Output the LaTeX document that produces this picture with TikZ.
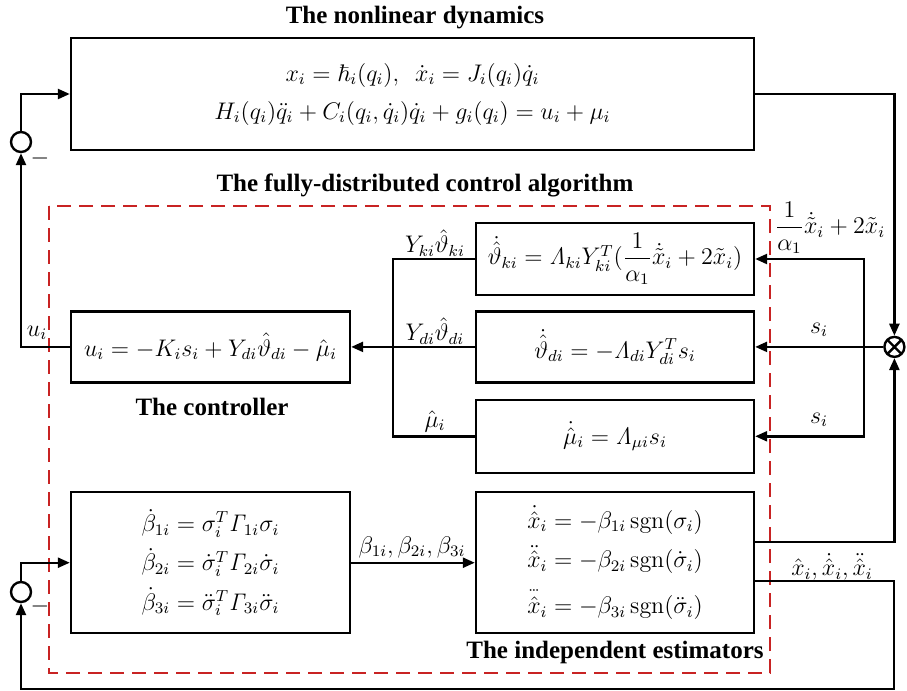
\documentclass[tikz,border=0pt]{standalone}
\usepackage{amsmath,amssymb,mathtools}
\usepackage[no-math]{fontspec}
\setmainfont{Liberation Serif}
\usetikzlibrary{positioning, arrows.meta, calc}
\definecolor{dashred}{RGB}{200,35,35}
\newcommand{\tridot}[1]{\overset{\mathclap{\raisebox{-1.5pt}{$\scriptstyle\cdot\mkern-1.5mu\cdot\mkern-1.5mu\cdot$}}}{#1}}

\begin{document}
\begin{tikzpicture}[
  x=0.5pt, y=-0.5pt,
  block/.style={draw, line width=1.2pt, align=center, inner sep=2pt,
                font=\fontsize{12}{14}\selectfont},
  sumc/.style={draw, circle, line width=1.2pt, minimum size=10pt, inner sep=0pt},
  mixer/.style={sumc, path picture={
      \draw[line width=1.2pt] (path picture bounding box.north west) -- (path picture bounding box.south east)
                              (path picture bounding box.north east) -- (path picture bounding box.south west);}},
  arr/.style={-{Triangle[length=6pt, width=5pt]}, line width=1.2pt},
  wire/.style={line width=1.2pt},
  heading/.style={font=\fontsize{12.5}{14}\selectfont\bfseries},
  lbl/.style={font=\fontsize{12}{14}\selectfont, inner sep=1pt},
  gbox/.style={draw=dashred, dash pattern=on 7pt off 4pt, line width=0.8pt},
]
\useasboundingbox (0,0) rectangle (907,691);

% --- Group box ---
\draw[gbox] (49,206) rectangle (770,673);

% --- Nodes ---

% Plant
\node[block, minimum width=341.5pt, minimum height=56pt] (dyn) at (412.5,94)
  {$x_i = \hbar_i(q_i),\ \ \dot{x}_i = J_i(q_i)\dot{q}_i$\\[5pt]
   $H_i(q_i)\ddot{q}_i + C_i(q_i,\dot{q}_i)\dot{q}_i + g_i(q_i) = u_i + \mu_i$};

% Adaptive laws
\node[block, minimum width=139pt, minimum height=36pt] (kap) at (615,259)
  {$\dot{\hat{\vartheta}}_{ki} = \mathit{\Lambda}_{ki}Y_{ki}^T(\dfrac{1}{\alpha_1}\dot{\tilde{x}}_i + 2\tilde{x}_i)$};
\node[block, minimum width=139pt, minimum height=35.5pt, below=7pt of kap] (dlaw)
  {$\dot{\hat{\vartheta}}_{di} = -\mathit{\Lambda}_{di}Y_{di}^T s_i$};
\node[block, minimum width=139pt, minimum height=36.5pt, below=7.5pt of dlaw] (mulaw)
  {$\dot{\hat{\mu}}_i = \mathit{\Lambda}_{\mu i}s_i$};

% Estimators
\node[block, minimum width=139pt, minimum height=70.5pt, below=8.5pt of mulaw] (est)
  {$\dot{\hat{x}}_i = -\beta_{1i}\operatorname{sgn}(\sigma_i)$\\[4.5pt]
   $\ddot{\hat{x}}_i = -\beta_{2i}\operatorname{sgn}(\dot{\sigma}_i)$\\[4.5pt]
   $\tridot{\hat{x}}_i = -\beta_{3i}\operatorname{sgn}(\ddot{\sigma}_i)$};
\node[block, minimum width=139.5pt, minimum height=70.5pt, left=61.8pt of est] (beta)
  {$\dot{\beta}_{1i} = \sigma_i^T\mathit{\Gamma}_{1i}\sigma_i$\\[4.5pt]
   $\dot{\beta}_{2i} = \dot{\sigma}_i^T\mathit{\Gamma}_{2i}\dot{\sigma}_i$\\[4.5pt]
   $\dot{\beta}_{3i} = \ddot{\sigma}_i^T\mathit{\Gamma}_{3i}\ddot{\sigma}_i$};

% Controller
\node[block, minimum width=139.5pt, minimum height=35.5pt, left=61.8pt of dlaw] (ctrl)
  {$u_i = -K_is_i + Y_{di}\hat{\vartheta}_{di} - \hat{\mu}_i$};

% Junctions
\node[mixer, right=64pt of dlaw] (mix) {};
\node[sumc] (sum1) at (21,142) {};
\node[sumc] (sum2) at (21,592) {};
\node[lbl] (neg1) at (40,158) {$-$};
\node[lbl] (neg2) at (40,606) {$-$};
\coordinate (busr) at ([xshift=54.5pt]dlaw.east);
\coordinate (busl) at ([xshift=-41pt]dlaw.west);
\coordinate (fb) at (894,689);

% Titles
\node[heading] (tdyn) at (415,18) {The nonlinear dynamics};
\node[heading] (talg) at (425,185) {The fully-distributed control algorithm};
\node[heading] (tctrl) at (212,407) {The controller};
\node[heading] (test) at (615,652) {The independent estimators};

% --- Arrows ---
\draw[arr] (dyn.east) -| (mix.north);
\draw[arr] (mix.west) -- (dlaw.east);
\draw[arr] (busr) |- (kap.east);
\draw[arr] (busr) |- (mulaw.east);
\draw[wire] (kap.west) -| (busl) |- (mulaw.west);
\draw[arr] (dlaw.west) -- (ctrl.east);
\draw[arr] (ctrl.west) -| (sum1.south);
\draw[arr] (sum1.north) |- (dyn.west);
\draw[arr] (beta.east) -- (est.west);
\draw[arr] ([yshift=10.5pt]est.east) -| (mix.south);
\draw[arr] ([yshift=-9pt]est.east) -| (fb) -| (sum2.south);
\draw[arr] (sum2.north) |- (beta.west);

% --- Signal labels ---
\node[lbl] (lyk) at (435,243) {$Y_{ki}\hat{\vartheta}_{ki}$};
\node[lbl] (lyd) at (435,331) {$Y_{di}\hat{\vartheta}_{di}$};
\node[lbl] (lmu) at (435,421) {$\hat{\mu}_i$};
\node[lbl] (ls1) at (819,330) {$s_i$};
\node[lbl] (ls2) at (819,420) {$s_i$};
\node[lbl] (lerr) at (830,228) {$\dfrac{1}{\alpha_1}\dot{\tilde{x}}_i + 2\tilde{x}_i$};
\node[lbl] (lu) at (37,333) {$u_i$};
\node[lbl] (lbeta) at (412,547) {$\beta_{1i},\beta_{2i},\beta_{3i}$};
\node[lbl] (lxhat) at (832,567) {$\hat{x}_i,\dot{\hat{x}}_i,\ddot{\hat{x}}_i$};

\end{tikzpicture}
\end{document}
